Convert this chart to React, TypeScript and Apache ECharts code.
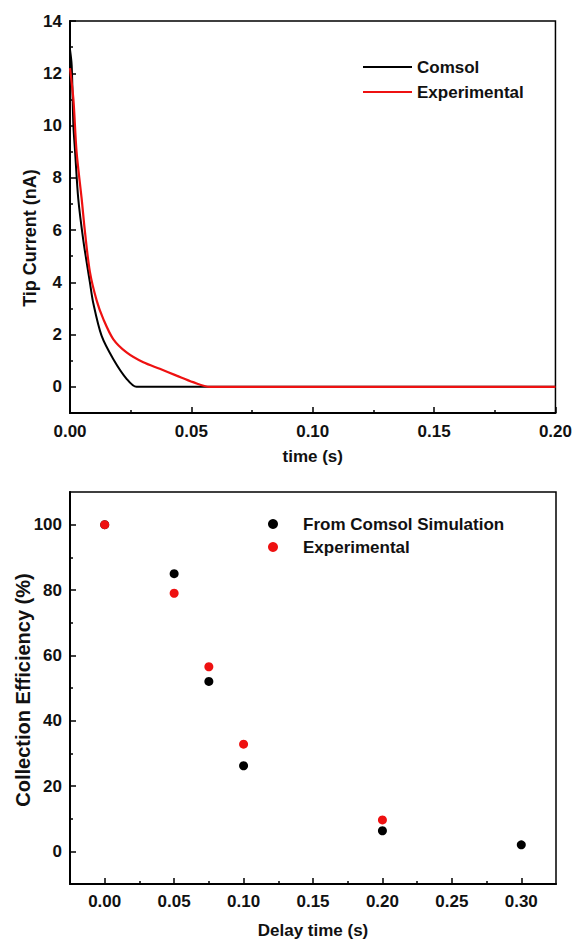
import React, { useEffect, useRef } from "react";
import * as echarts from "echarts";

// ---------- Data ----------
// Top chart: tip current (nA) vs time (s)
const comsolTime = [0, 0.0007, 0.0014, 0.0021, 0.0034, 0.0055, 0.0082, 0.0096, 0.013, 0.0178, 0.0233, 0.0274, 0.035, 0.2];
const comsolCurrent = [12.9, 12.3, 10.0, 9.0, 7.2, 5.6, 4.0, 3.2, 1.96, 1.07, 0.31, 0, 0, 0];
const expTime = [0, 0.0014, 0.0027, 0.0048, 0.0062, 0.0082, 0.011, 0.0137, 0.0178, 0.0233, 0.0302, 0.037, 0.0439, 0.0507, 0.0576, 0.07, 0.2];
const expCurrent = [12.2, 11.0, 9.0, 7.2, 5.9, 4.4, 3.3, 2.6, 1.83, 1.32, 0.94, 0.69, 0.43, 0.18, 0, 0, 0];

const topXTicks = [0, 0.05, 0.1, 0.15, 0.2];
const topYTicks = [0, 2, 4, 6, 8, 10, 12, 14];
const topYMinor = [1, 3, 5, 7, 9, 11, 13];

// Bottom chart: collection efficiency (%) vs delay time (s)
const simDelay = [0, 0.05, 0.075, 0.1, 0.2, 0.3];
const simEfficiency = [100, 85, 52, 26.2, 6.3, 2];
const expDelay = [0, 0.05, 0.075, 0.1, 0.2];
const expEfficiency = [100, 79, 56.5, 32.8, 9.6];

const botXTicks = [0, 0.05, 0.1, 0.15, 0.2, 0.25, 0.3];
const botXMinor = [0.025, 0.075, 0.125, 0.175, 0.225, 0.275];
const botYTicks = [0, 20, 40, 60, 80, 100];
const botYMinor = [10, 30, 50, 70, 90];

const FONT = '"Liberation Sans", Arial, Helvetica, sans-serif';
const INK = "#111";
const RED = "#ee1111";

const zip = (a: number[], b: number[]) => a.map((v, i) => [v, b[i]]);

const labelStyle = (size: number) => ({
  fontFamily: FONT,
  fontWeight: "bold" as const,
  fontSize: size,
  color: INK,
});

function topOption(): any {
  const axisLine = { show: true, onZero: false, lineStyle: { color: "#000", width: 2 } };
  return {
    animation: false,
    grid: { left: 70, right: 19, top: 21, bottom: 57, show: true, borderColor: "#000", borderWidth: 1.5, backgroundColor: "transparent" },
    legend: {
      orient: "vertical",
      left: 363,
      top: 57,
      padding: 0,
      icon: "rect",
      itemWidth: 49,
      itemHeight: 2,
      itemGap: 5,
      textStyle: { ...labelStyle(17), lineHeight: 20 },
      data: ["Comsol", "Experimental"],
    },
    xAxis: {
      type: "value",
      min: 0,
      max: 0.2,
      interval: 0.05,
      axisLine,
      axisTick: { show: true, inside: true, length: 6, lineStyle: { color: "#000", width: 1.5 } },
      minorTick: { show: true, splitNumber: 2, length: 3, lineStyle: { color: "#000", width: 1.5 } },
      splitLine: { show: false },
      axisLabel: { ...labelStyle(17), margin: 10, formatter: (v: number) => v.toFixed(2), customValues: topXTicks },
      name: "time (s)",
      nameLocation: "middle",
      nameGap: 35,
      nameTextStyle: labelStyle(17),
    },
    yAxis: [
      {
        type: "value",
        min: -1,
        max: 14,
        axisLine,
        axisTick: { show: true, inside: true, length: 6, lineStyle: { color: "#000", width: 1.5 }, customValues: topYTicks },
        axisLabel: { ...labelStyle(17), margin: 8, customValues: topYTicks },
        splitLine: { show: false },
      },
      {
        type: "value",
        position: "left",
        min: -1,
        max: 14,
        axisLine: { show: false, onZero: false },
        axisTick: { show: true, inside: true, length: 3, lineStyle: { color: "#000", width: 1.5 }, customValues: topYMinor },
        axisLabel: { show: false },
        splitLine: { show: false },
      },
    ],
    graphic: [
      {
        type: "text",
        x: 30,
        y: 238,
        rotation: Math.PI / 2,
        style: { text: "Tip Current (nA)", fontFamily: FONT, fontWeight: "bold", fontSize: 18, fill: INK, align: "center", verticalAlign: "middle" },
      },
    ],
    series: [
      {
        name: "Comsol",
        type: "line",
        xAxisIndex: 0,
        yAxisIndex: 0,
        symbol: "none",
        smooth: 0.3,
        lineStyle: { color: "#000", width: 2 },
        itemStyle: { color: "#000" },
        data: zip(comsolTime, comsolCurrent),
      },
      {
        name: "Experimental",
        type: "line",
        xAxisIndex: 0,
        yAxisIndex: 0,
        symbol: "none",
        smooth: 0.3,
        lineStyle: { color: RED, width: 2.2 },
        itemStyle: { color: RED },
        data: zip(expTime, expCurrent),
      },
    ],
  };
}

function bottomOption(): any {
  const axisLine = { show: true, onZero: false, lineStyle: { color: "#000", width: 2 } };
  const minorAxis = (vals: number[], min: number, max: number, position: string) => ({
    type: "value",
    position,
    min,
    max,
    axisLine: { show: false, onZero: false },
    axisTick: { show: true, inside: true, length: 3, lineStyle: { color: "#000", width: 1.5 }, customValues: vals },
    axisLabel: { show: false },
    splitLine: { show: false },
  });
  return {
    animation: false,
    grid: { left: 70, right: 19, top: 22, bottom: 56, show: true, borderColor: "#000", borderWidth: 1.5, backgroundColor: "transparent" },
    legend: {
      orient: "vertical",
      left: 268,
      top: 44,
      padding: 0,
      itemWidth: 50,
      itemHeight: 10,
      itemGap: 3,
      icon: "circle",
      textStyle: { ...labelStyle(17), lineHeight: 20 },
      data: ["From Comsol Simulation", "Experimental"],
    },
    xAxis: [
      {
        type: "value",
        position: "bottom",
        min: -0.025,
        max: 0.325,
        axisLine,
        axisTick: { show: true, inside: true, length: 6, lineStyle: { color: "#000", width: 1.5 }, customValues: botXTicks },
        axisLabel: { ...labelStyle(17), margin: 9, formatter: (v: number) => v.toFixed(2), customValues: botXTicks },
        splitLine: { show: false },
        name: "Delay time (s)",
        nameLocation: "middle",
        nameGap: 38,
        nameTextStyle: labelStyle(17),
      },
      minorAxis(botXMinor, -0.025, 0.325, "bottom"),
    ],
    yAxis: [
      {
        type: "value",
        position: "left",
        min: -10,
        max: 110,
        axisLine,
        axisTick: { show: true, inside: true, length: 6, lineStyle: { color: "#000", width: 1.5 }, customValues: botYTicks },
        axisLabel: { ...labelStyle(17), margin: 8, customValues: botYTicks },
        splitLine: { show: false },
      },
      minorAxis(botYMinor, -10, 110, "left"),
    ],
    graphic: [
      {
        type: "text",
        x: 23,
        y: 220,
        rotation: Math.PI / 2,
        style: { text: "Collection Efficiency (%)", fontFamily: FONT, fontWeight: "bold", fontSize: 20, fill: INK, align: "center", verticalAlign: "middle" },
      },
    ],
    series: [
      {
        name: "From Comsol Simulation",
        type: "scatter",
        xAxisIndex: 0,
        yAxisIndex: 0,
        symbol: "circle",
        symbolSize: 9,
        itemStyle: { color: "#000", opacity: 1 },
        data: zip(simDelay, simEfficiency),
      },
      {
        name: "Experimental",
        type: "scatter",
        xAxisIndex: 0,
        yAxisIndex: 0,
        symbol: "circle",
        symbolSize: 9,
        itemStyle: { color: RED, opacity: 1 },
        data: zip(expDelay, expEfficiency),
      },
    ],
  };
}

export default function App() {
  const topRef = useRef<HTMLDivElement>(null);
  const botRef = useRef<HTMLDivElement>(null);

  useEffect(() => {
    const top = echarts.init(topRef.current!, undefined, { renderer: "svg" });
    const bot = echarts.init(botRef.current!, undefined, { renderer: "svg" });
    top.setOption(topOption());
    bot.setOption(bottomOption());
    return () => {
      top.dispose();
      bot.dispose();
    };
  }, []);

  return (
    <div style={{ position: "absolute", left: 0, top: 0, width: 575, height: 944, background: "#fff" }}>
      <div ref={topRef} style={{ position: "absolute", left: 0, top: 0, width: 575, height: 470 }} />
      <div ref={botRef} style={{ position: "absolute", left: 0, top: 470, width: 575, height: 474 }} />
    </div>
  );
}
